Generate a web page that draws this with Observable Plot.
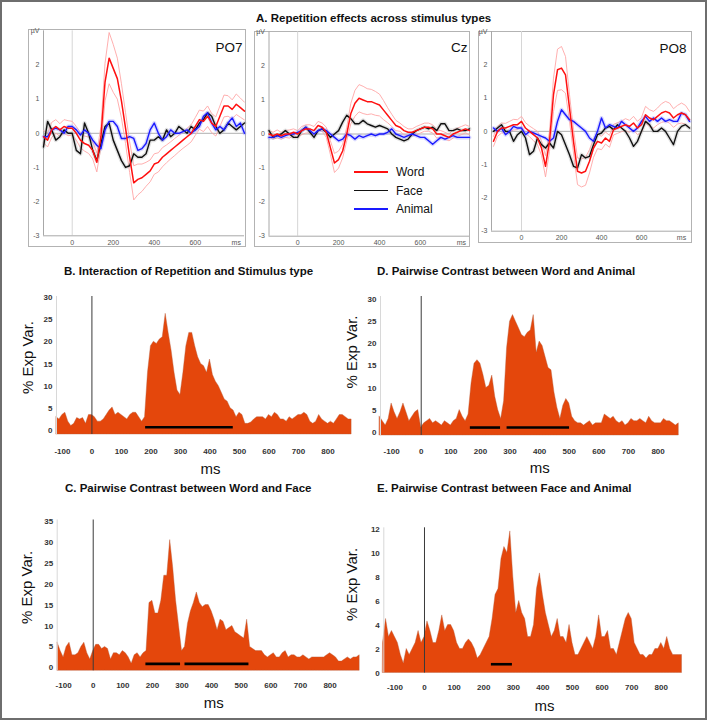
<!DOCTYPE html>
<html>
<head>
<meta charset="utf-8">
<script src="https://cdn.jsdelivr.net/npm/d3@7"></script>
<script src="https://cdn.jsdelivr.net/npm/@observablehq/plot@0.6"></script>
<style>
html,body{margin:0;padding:0;background:#fff;}
#fig{position:relative;width:709px;height:721px;overflow:hidden;background:#fff;font-family:"Liberation Sans",Arial,Helvetica,sans-serif;color:#111;}
#frame{position:absolute;left:0;top:0;width:707px;height:720px;border:2px solid #6e6e6e;box-sizing:border-box;pointer-events:none;}
.box{position:absolute;border:1px solid #b3b3b3;box-sizing:border-box;}
.title{position:absolute;font-weight:bold;font-size:11.5px;line-height:13px;white-space:nowrap;color:#111;}
.panel{position:absolute;}
.panel svg{overflow:visible;display:block;}
.leg{position:absolute;font-size:12px;line-height:14px;white-space:nowrap;color:#111;}
.leg span.sw{position:absolute;height:1.8px;}
</style>
</head>
<body>
<div id="fig"></div>
<script>
// ---------------- DATA ----------------
// Panel A: ERP repetition effects, sampled every 20 ms from -140 ms
const erpT0 = -140, erpStep = 20;
const seriesNames = ["Word", "Face", "Animal"];
const seriesColors = ["#ff1010", "#111111", "#1a1aff"];

const po7Word = [-0.1,-0.2,0.1,0.2,0.1,0.2,0.15,0.15,0.0,-0.2,
  -0.3,-0.35,-0.5,-0.85,-0.1,1.5,2.2,1.9,1.6,0.95,
  0.15,-0.7,-1.45,-1.35,-1.3,-1.2,-1.1,-0.9,-0.85,-0.7,
  -0.6,-0.5,-0.4,-0.3,-0.2,-0.1,0.0,0.2,0.4,0.35,
  0.5,0.3,0.2,0.5,0.8,0.8,0.7,0.85,0.75,0.65];
const po7WordSE = [0.18,0.2,0.22,0.2,0.18,0.2,0.22,0.2,0.2,0.22,
  0.22,0.24,0.25,0.28,0.3,0.55,0.75,0.7,0.6,0.5,
  0.45,0.45,0.5,0.45,0.4,0.35,0.32,0.3,0.28,0.28,
  0.26,0.25,0.25,0.24,0.24,0.25,0.25,0.26,0.28,0.3,
  0.3,0.28,0.28,0.3,0.32,0.3,0.28,0.3,0.28,0.26];
const po7Face = [-0.4,0.35,0.1,-0.2,-0.1,0.1,0.0,0.0,-0.5,-0.6,
  0.3,0.0,-0.5,-0.8,-0.3,0.2,0.3,-0.2,-0.5,-0.8,
  -1.0,-0.95,-0.6,-0.7,-0.7,-0.6,-0.2,-0.2,-0.1,-0.2,
  0.1,-0.1,0.0,0.2,0.1,0.0,0.2,0.1,0.3,0.4,
  0.6,0.5,0.2,0.0,0.1,0.3,0.2,0.1,0.2,0.3];
const po7Animal = [-0.1,-0.1,0.1,0.15,0.1,0.0,0.2,0.2,0.1,-0.05,
  0.1,0.0,-0.2,-0.35,-0.45,0.1,0.35,0.35,0.2,-0.15,
  -0.15,-0.1,-0.15,-0.5,-0.45,-0.3,0.1,0.3,0.0,-0.2,
  -0.1,0.1,0.0,0.0,0.05,0.1,0.0,0.1,0.2,0.5,
  0.6,0.3,0.1,0.2,0.1,0.3,0.45,0.2,0.3,0.0];

const czWord = [0.0,-0.05,0.0,-0.05,0.0,0.0,0.05,0.0,0.1,0.15,
  0.15,0.1,0.25,0.2,0.05,-0.4,-0.85,-0.75,-0.5,0.0,
  0.6,0.9,1.05,1.0,0.95,0.95,0.9,0.85,0.7,0.55,
  0.4,0.25,0.2,0.1,0.05,0.05,0.1,0.15,0.2,0.2,
  0.15,0.0,0.0,-0.05,-0.1,0.0,0.05,0.1,0.15,0.1];
const czWordSE = [0.1,0.1,0.12,0.1,0.1,0.12,0.1,0.1,0.12,0.12,
  0.12,0.12,0.12,0.12,0.15,0.2,0.28,0.25,0.2,0.2,
  0.3,0.38,0.4,0.4,0.38,0.36,0.35,0.32,0.28,0.22,
  0.18,0.15,0.12,0.12,0.1,0.1,0.12,0.12,0.12,0.12,
  0.12,0.12,0.1,0.1,0.1,0.12,0.12,0.12,0.12,0.12];
const czFace = [0.1,-0.1,-0.05,0.0,0.1,0.0,-0.1,-0.1,0.1,0.2,
  0.05,-0.1,0.1,0.15,0.05,-0.1,0.0,0.1,0.35,0.55,
  0.45,0.3,0.3,0.4,0.3,0.25,0.2,0.25,0.2,0.15,
  0.0,-0.1,-0.15,-0.2,-0.15,0.0,0.1,0.15,0.2,0.15,
  0.2,0.1,0.3,0.3,0.1,0.1,0.15,0.1,0.1,0.15];
const czAnimal = [-0.1,-0.1,-0.05,-0.1,-0.05,0.0,0.0,0.05,0.1,0.2,
  0.1,0.0,0.1,0.15,0.1,0.0,-0.1,-0.2,-0.15,0.0,
  -0.05,-0.15,-0.05,-0.1,-0.05,0.0,-0.05,0.0,0.0,0.05,
  0.15,0.0,-0.05,-0.1,-0.05,0.0,-0.05,-0.1,-0.1,-0.2,
  -0.3,-0.2,-0.1,-0.15,-0.1,-0.05,-0.1,-0.1,-0.1,-0.1];

const po8Word = [-0.3,0.0,0.1,0.1,0.15,0.2,0.2,0.3,0.1,0.0,
  -0.1,-0.2,-0.5,-1.05,-0.3,1.1,1.85,1.9,1.7,0.7,
  -0.3,-1.2,-1.25,-1.2,-0.9,-0.5,-0.3,-0.35,-0.2,-0.3,
  0.05,0.1,0.15,0.2,0.15,0.25,0.1,0.2,0.5,0.4,
  0.35,0.45,0.55,0.6,0.55,0.4,0.5,0.55,0.5,0.35];
const po8WordSE = [0.15,0.15,0.15,0.14,0.15,0.16,0.15,0.15,0.16,0.16,
  0.18,0.2,0.22,0.32,0.3,0.5,0.62,0.65,0.55,0.4,
  0.35,0.4,0.42,0.42,0.35,0.28,0.22,0.2,0.18,0.18,
  0.16,0.16,0.16,0.18,0.18,0.2,0.2,0.22,0.25,0.25,
  0.25,0.25,0.28,0.3,0.3,0.28,0.28,0.3,0.28,0.25];
const po8Face = [0.0,0.1,0.2,0.0,0.0,-0.3,-0.1,0.0,-0.2,-0.7,
  -0.6,-0.2,-0.4,-0.5,-0.35,-0.5,0.0,-0.1,-0.4,-0.7,
  -1.05,-1.1,-0.7,-0.8,-0.75,-0.4,-0.1,-0.05,0.1,0.15,
  0.05,0.2,0.1,0.0,-0.2,-0.45,-0.3,0.0,0.3,0.2,
  0.0,0.0,0.1,0.0,-0.2,-0.4,0.0,0.15,0.2,0.1];
const po8Animal = [0.1,0.0,0.1,-0.1,0.0,0.15,0.1,0.1,-0.1,0.0,
  -0.05,-0.1,-0.15,-0.2,-0.3,-0.2,0.3,0.65,0.5,0.35,
  0.3,0.2,0.1,0.0,-0.2,-0.3,0.0,0.4,0.1,0.2,
  0.15,0.1,0.3,0.2,0.1,0.0,0.1,0.3,0.45,0.3,
  0.4,0.3,0.4,0.3,0.35,0.3,0.3,0.55,0.5,0.3];

const erpYTicks = [-3,-2,-1,0,1,2,3];
const erpXTicks = [0,200,400,600,800];

// Panels B–E: % explained variance, sampled every 10 ms
const areaStep = 10;
const bStart = -120;
const bValues = [3,2.5,3.5,4,2,1,1.5,2.8,2.5,2.8,
  1.5,3.5,3.5,3,2,2,2.5,3.5,4.5,5.2,
  3.5,4,3.5,3,2.5,3.5,4,4,3,2,
  3,13,19,20,19.5,20.5,21,26.3,22,18,
  13,9,8,13,19,22,22,19,16.5,15,
  14.5,13,16,12.5,11,10,8.5,7,6.5,5,
  4.5,3,4,3.5,1.5,1.5,1.8,2.5,3,3,
  3,2.5,3.5,3,4,3.5,2.5,2.5,2,3,
  2.5,3,3.5,3.5,4,3.5,2,1.5,2,3.5,
  2.5,2,1.5,2,1.5,2.5,3.5,3.5,3,2.5,
  2.5];
const bSig = [[182, 479]];

const dStart = -140;
const dValues = [3.5,2.5,1.5,3,6.5,4.5,3,4.5,6.5,4.5,
  2.5,3.5,4.5,5,1,2,2.5,3,2,2.5,
  2,1.5,2.5,2,1.5,2.5,3,5,3.5,2.5,
  4,11,15.5,16.3,15.5,13,10,10.5,12.8,8,
  5,3,7,19,25,26.5,25,23.5,22,21.5,
  22.5,23,26.5,18,20.5,19.5,17,14.5,14,9,
  5.5,3,6,7.5,6.5,3.5,2.5,2,2,1.5,
  2,2.5,1.5,2,2,2,4,3.5,3,3.5,
  2.5,2,2.5,1.5,2,3,2.5,2.5,3,2.5,
  2,3.5,2.5,2,2,2,3,2.5,2.5,2,
  1.5,2];
const dSig = [[166, 268], [290, 501]];

const cStart = -120;
const cValues = [6,4,2.5,5,6,3,3,3.5,5,6,
  3.5,2,4,5.5,5.5,4.5,5,4.5,2,3.5,
  3.5,3,4,3.5,2.5,1,3,3.5,2.5,3.5,
  4,15.5,16,13,13,16,22,22,30.5,24,
  16,10,4,5,10.5,13.5,15.5,18,15.5,14.5,
  15,15,13.5,11.5,9,11.5,11,9,9.5,10,
  8.5,8,7.5,7,11.5,5,4.5,4,4,4,
  3,2.5,3,3.5,2.5,2.5,3.5,4,2.5,3,
  3,2.5,2.5,3,2.5,2,2.5,2.5,2.5,2.5,
  2.5,3,3.5,3,2.5,1.5,1.5,2,2.5,2,
  2.5,2.5,3];
const cSig = [[178, 295], [310, 526]];

const eStart = -140;
const eValues = [2.5,4.5,3,3.5,3,2.5,1.5,0.8,2,1.5,
  2,2.5,3.5,2.5,3,4.3,3.5,2.5,2.5,3.5,
  4.8,3.5,4,4,3.5,2.5,2,2,2.5,2.8,
  2.5,2,1.2,1.5,2,2.5,3,4.5,6.5,7,
  9.5,10.5,10,11.8,8,5,6,5,4.5,3,
  3,4,7,8.3,6.5,5,4,3,3.5,4.5,
  3,3,2.5,4,2.5,1.5,1.5,2,2.5,3,
  2.5,2,3,4.8,3,3,3.5,2,2,1.5,
  2.5,3.5,4.5,5,4.5,2.5,2,1.5,1.5,1.2,
  1.5,1.5,2,2,2.5,2,3,2,1.5,1.5,
  1.5,1.5];
const eSig = [[226, 297]];

const areaXTicks = [-100,0,100,200,300,400,500,600,700,800];
const titles = {
  A: "A. Repetition effects across stimulus types",
  B: "B. Interaction of Repetition and Stimulus type",
  C: "C. Pairwise Contrast between Word and Face",
  D: "D. Pairwise Contrast between Word and Animal",
  E: "E. Pairwise Contrast between Face and Animal"
};
const yLabel = "% Exp Var.";
const xLabel = "ms";

// ---------------- DRAWING ----------------
const FONT = "'Liberation Sans', Arial, Helvetica, sans-serif";
const ORANGE = "#e4470c";
const fig = document.getElementById("fig");

function place(node, left, top, cls) {
  const div = document.createElement("div");
  div.className = cls || "panel";
  div.style.left = left + "px";
  div.style.top = top + "px";
  div.appendChild(node);
  fig.appendChild(div);
  return div;
}
function addTitle(text, left, centerY) {
  const d = document.createElement("div");
  d.className = "title";
  d.textContent = text;
  d.style.left = left + "px";
  d.style.top = (centerY - 6.5) + "px";
  fig.appendChild(d);
}

// ----- ERP panels -----
const erpYDomain = [-3, 3];
const channels = [
  {name: "PO7", word: po7Word, se: po7WordSE, face: po7Face, animal: po7Animal,
   box: {left: 28, top: 29, width: 218, height: 218}, m: {l: 15, r: 2, t: 1.3, b: 11.7},
   xDomain: [-140, 840], label: {dx: -2, dy: 11.5}},
  {name: "Cz", word: czWord, se: czWordSE, face: czFace, animal: czAnimal,
   box: {left: 254, top: 31, width: 216, height: 216}, m: {l: 14.5, r: 1, t: 0.3, b: 11.3},
   xDomain: [-140, 840], label: {dx: -2, dy: 10.7}},
  {name: "PO8", word: po8Word, se: po8WordSE, face: po8Face, animal: po8Animal,
   box: {left: 478, top: 31, width: 214, height: 212}, m: {l: 13, r: 1, t: 0, b: 12.3},
   xDomain: [-150, 850], label: {dx: -5, dy: 11.5}}
];

for (const ch of channels) {
  const rows = ch.word.map((w, i) => ({t: erpT0 + i * erpStep, word: w, se: ch.se[i], face: ch.face[i], animal: ch.animal[i]}));
  const boxDiv = document.createElement("div");
  boxDiv.className = "box";
  Object.assign(boxDiv.style, {left: ch.box.left + "px", top: ch.box.top + "px", width: ch.box.width + "px", height: ch.box.height + "px"});
  fig.appendChild(boxDiv);
  const svg = Plot.plot({
    width: ch.box.width, height: ch.box.height,
    marginLeft: ch.m.l, marginRight: ch.m.r, marginTop: ch.m.t, marginBottom: ch.m.b,
    x: {domain: ch.xDomain},
    y: {domain: erpYDomain},
    style: {fontFamily: FONT, fontSize: "7px", color: "#555", background: "transparent", overflow: "visible"},
    marks: [
      Plot.ruleX([0], {stroke: "#d6d6d6", strokeWidth: 1}),
      Plot.ruleY([0], {stroke: "#b0b0b0", strokeWidth: 1}),
      Plot.ruleX([ch.xDomain[0]], {stroke: "#a8a8a8"}),
      Plot.ruleY([erpYDomain[0]], {stroke: "#a8a8a8"}),
      Plot.line(rows, {x: "t", y: d => d.word + d.se, stroke: "#ffa6a6", strokeWidth: 0.9}),
      Plot.line(rows, {x: "t", y: d => d.word - d.se, stroke: "#ffa6a6", strokeWidth: 0.9}),
      Plot.line(rows, {x: "t", y: "face", stroke: "#9a9a9a", strokeWidth: 4, strokeOpacity: 0.3}),
      Plot.line(rows, {x: "t", y: "animal", stroke: "#7f7fff", strokeWidth: 4, strokeOpacity: 0.3}),
      Plot.line(rows, {x: "t", y: "face", stroke: seriesColors[1], strokeWidth: 1.4}),
      Plot.line(rows, {x: "t", y: "animal", stroke: seriesColors[2], strokeWidth: 1.4}),
      Plot.line(rows, {x: "t", y: "word", stroke: seriesColors[0], strokeWidth: 1.5}),
      Plot.axisX({ticks: erpXTicks, tickSize: 0, tickPadding: 4, label: null,
        tickFormat: d => d === 800 ? "ms" : String(d)}),
      Plot.axisY({ticks: erpYTicks, tickSize: 0, tickPadding: 4, label: null,
        tickFormat: d => d === 3 ? "µV" : String(d)}),
      Plot.text([ch.name], {text: d => d, frameAnchor: "top-right", textAnchor: "end",
        dx: ch.label.dx, dy: ch.label.dy, fontSize: 13.5, fill: "#111"})
    ]
  });
  place(svg, ch.box.left, ch.box.top);
}

// legend inside Cz
const legTop = [172, 190.5, 209];
seriesNames.forEach((name, i) => {
  const d = document.createElement("div");
  d.className = "leg";
  d.style.left = "354px";
  d.style.top = (legTop[i] - 7) + "px";
  d.style.width = "80px";
  d.style.height = "14px";
  const sw = document.createElement("span");
  sw.className = "sw";
  Object.assign(sw.style, {left: "0px", top: "6px", width: "34px", background: seriesColors[i]});
  const tx = document.createElement("span");
  tx.textContent = name;
  Object.assign(tx.style, {position: "absolute", left: "42px", top: "0px"});
  d.appendChild(sw); d.appendChild(tx);
  fig.appendChild(d);
});

// ----- Area panels -----
function areaPanel(p) {
  const data = p.values.map((v, i) => ({t: p.start + i * areaStep, v}));
  const sig = p.sig.map(([a, b]) => ({a, b}));
  const svg = Plot.plot({
    width: p.w, height: p.h,
    marginLeft: p.m.l, marginRight: p.m.r, marginTop: p.m.t, marginBottom: p.m.b,
    x: {domain: p.xDomain},
    y: {domain: p.yDomain},
    style: {fontFamily: FONT, fontSize: "8px", color: "#333", background: "transparent", overflow: "visible"},
    marks: [
      Plot.areaY(data, {x: "t", y1: p.yDomain[0], y2: "v", fill: ORANGE, stroke: "#b75a3a", strokeWidth: 0.4, curve: "linear"}),
      Plot.ruleX([p.xDomain[0]], {stroke: "#d8d8d8"}),
      Plot.ruleX([0], {stroke: "#3a3a3a", strokeWidth: 1}),
      Plot.ruleY(sig, {x1: "a", x2: "b", y: () => p.sigY, stroke: "#000", strokeWidth: 2.6}),
      Plot.axisX({ticks: areaXTicks, tickSize: 0, tickPadding: p.xPad, label: null, fontWeight: "bold",
        tickFormat: d => String(d)}),
      Plot.axisY({ticks: p.yTicks, tickSize: 0, tickPadding: 4, label: null, fontWeight: "bold",
        tickFormat: d => String(d)}),
      Plot.text([yLabel], {text: d => d, frameAnchor: "left", textAnchor: "middle", lineAnchor: "middle",
        rotate: -90, dx: p.yl.dx, dy: p.yl.dy, fontSize: 15, fill: "#111"}),
      Plot.text([xLabel], {text: d => d, frameAnchor: "bottom", textAnchor: "middle", lineAnchor: "middle",
        dx: p.xl.dx, dy: p.xl.dy, fontSize: 15, fill: "#111"})
    ]
  });
  place(svg, p.left, p.top);
}

areaPanel({values: bValues, start: bStart, sig: bSig, sigY: 0.75,
  left: 0, top: 280, w: 360, h: 200, m: {l: 56, r: 8, t: 16, b: 46},
  xDomain: [-120, 883], yDomain: [-0.9, 30.2], yTicks: [0,5,10,15,20,25,30],
  xPad: 13.5, yl: {dx: -28, dy: -8}, xl: {dx: 6, dy: 35}});
areaPanel({values: dValues, start: dStart, sig: dSig, sigY: 1.05,
  left: 330, top: 280, w: 379, h: 200, m: {l: 50, r: 30.7, t: 16, b: 45},
  xDomain: [-137.5, 870], yDomain: [-0.75, 30.7], yTicks: [0,5,10,15,20,25,30],
  xPad: 12.5, yl: {dx: -28, dy: -14}, xl: {dx: 10, dy: 32.7}});
areaPanel({values: cValues, start: cStart, sig: cSig, sigY: 0.95,
  left: 0, top: 490, w: 360, h: 231, m: {l: 56.7, r: 2, t: 29.5, b: 50.7},
  xDomain: [-121.6, 896], yDomain: [-0.7, 35.3], yTicks: [0,5,10,15,20,25,30,35],
  xPad: 11.5, yl: {dx: -29.7, dy: -8}, xl: {dx: 6, dy: 32.7}});
areaPanel({values: eValues, start: eStart, sig: eSig, sigY: 0.73,
  left: 330, top: 490, w: 379, h: 231, m: {l: 53.3, r: 26.3, t: 37.3, b: 48.5},
  xDomain: [-137.5, 874], yDomain: [0, 12.1], yTicks: [0,2,4,6,8,10,12],
  xPad: 11.7, yl: {dx: -31.3, dy: -16}, xl: {dx: 11, dy: 33.3}});

// titles
addTitle(titles.A, 256, 18);
addTitle(titles.B, 64, 271);
addTitle(titles.D, 377, 271);
addTitle(titles.C, 65, 488.5);
addTitle(titles.E, 377, 488.5);

// outer frame
const fr = document.createElement("div");
fr.id = "frame";
fig.appendChild(fr);
</script>
</body>
</html>
